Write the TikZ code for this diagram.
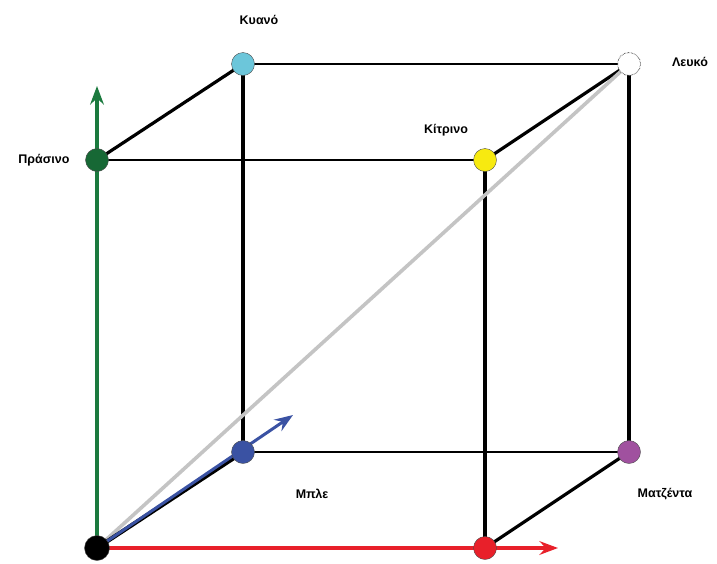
\documentclass[tikz,border=0pt]{standalone}
\usepackage{fontspec}
\setmainfont{Liberation Sans}
\usetikzlibrary{arrows.meta,positioning}
\definecolor{grn}{HTML}{1B7A3E}
\definecolor{rd}{HTML}{E8202A}
\definecolor{blu}{HTML}{3A52A3}
\definecolor{cyn}{HTML}{6CC6DA}
\definecolor{ylw}{HTML}{F7EA10}
\definecolor{mag}{HTML}{A0519F}
\definecolor{gry}{HTML}{C4C4C4}
\tikzset{
  >={Stealth[length=6.5mm,width=4.8mm,inset=2.2mm]},
  corner/.style={circle,draw=black!70,thin,minimum size=23pt,inner sep=0pt},
  edge/.style={line width=3.2pt,draw=black},
  thinedge/.style={line width=1.1pt,draw=black},
  axis/.style={->,line width=3.4pt},
  lbl/.style={font=\bfseries\fontsize{12.5}{15}\selectfont,text=black}
}
\begin{document}
\begin{tikzpicture}[x=1pt,y=-1pt]
  \useasboundingbox (0,0) rectangle (717,563);
  % cube corners
  \coordinate (pK) at (97,548);
  \coordinate (pR) at (485,548);
  \coordinate (pB) at (243,452);
  \coordinate (pM) at (629,452);
  \coordinate (pG) at (97,160);
  \coordinate (pY) at (485,160);
  \coordinate (pC) at (243,64);
  \coordinate (pW) at (629,64);
  \coordinate (gtip) at (97,86);
  \coordinate (rtip) at (558,548);
  \coordinate (btip) at (293,415);
  % edges
  \draw[thinedge] (pC)--(pW);
  \draw[thinedge] (pG)--(pY);
  \draw[edge,line width=2.4pt] (pB)--(pM);
  \draw[edge] (pC)--(pB);
  \draw[edge] (pY)--(pR);
  \draw[edge] (pW)--(pM);
  \draw[edge] (pG)--(pC);
  \draw[edge] (pY)--(pW);
  \draw[edge] (pR)--(pM);
  \draw[line width=3.6pt,draw=gry] (pK)--(pW);
  % axes
  \draw[axis,draw=grn,fill=grn] (pK)--(gtip);
  \draw[axis,draw=rd,fill=rd] (pK)--(rtip);
  \draw[line width=4.2pt,black] (pK)--(pB);
  \draw[axis,line width=3pt,draw=blu,fill=blu] (pK)--(btip);
  % nodes
  \node[corner,fill=black,minimum size=25pt] (black) at (pK) {};
  \node[corner,fill=rd] (red) at (pR) {};
  \node[corner,fill=blu] (blue) at (pB) {};
  \node[corner,fill=mag] (magenta) at (pM) {};
  \node[corner,fill=grn!85!black] (green) at (pG) {};
  \node[corner,fill=ylw] (yellow) at (pY) {};
  \node[corner,fill=cyn] (cyan) at (pC) {};
  \node[corner,fill=white,draw=black,densely dotted,thick] (white) at (pW) {};
  % labels
  \node[lbl] (lcyan) at (259,20) {Κυανό};
  \node[lbl] (lwhite) at (690,62) {Λευκό};
  \node[lbl] (lyellow) at (446,130) {Κίτρινο};
  \node[lbl] (lgreen) at (44,160) {Πράσινο};
  \node[lbl] (lblue) at (312,494) {Μπλε};
  \node[lbl] (lmagenta) at (665,494) {Ματζέντα};
\end{tikzpicture}
\end{document}
